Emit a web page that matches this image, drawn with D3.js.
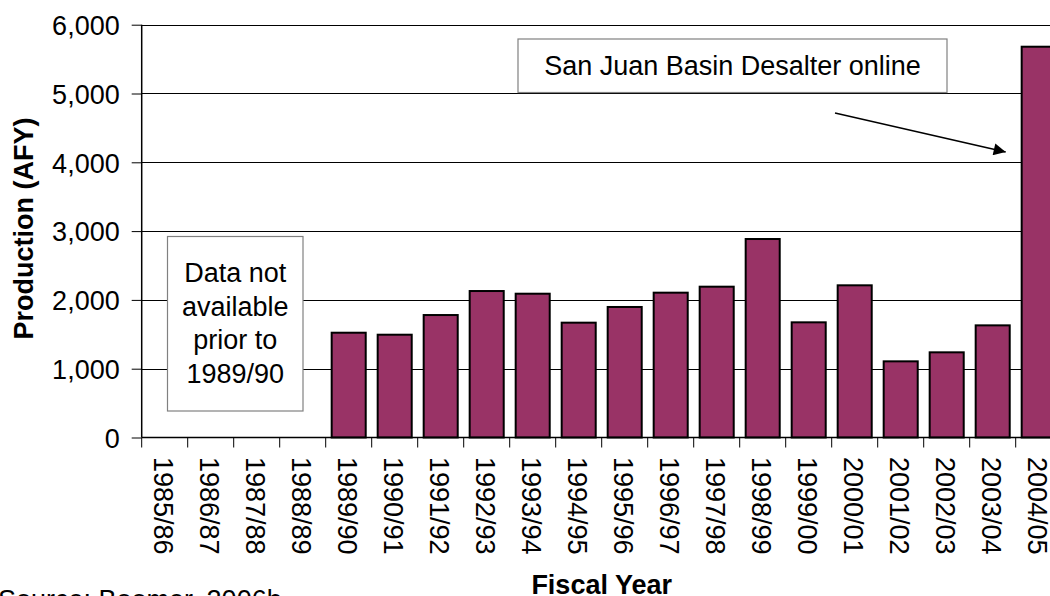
<!DOCTYPE html>
<html>
<head>
<meta charset="utf-8">
<script src="https://cdn.jsdelivr.net/npm/d3@7/dist/d3.min.js"></script>
<style>
  html, body { margin: 0; padding: 0; background: #fff; overflow: hidden; }
  svg { display: block; }
  text { font-family: "Liberation Sans", Arial, sans-serif; fill: #000; }
</style>
</head>
<body>
<svg id="chart" width="1050" height="596"></svg>
<script>
// ---- data ----
const categories = ["1985/86","1986/87","1987/88","1988/89","1989/90","1990/91","1991/92","1992/93","1993/94","1994/95",
                    "1995/96","1996/97","1997/98","1998/99","1999/00","2000/01","2001/02","2002/03","2003/04","2004/05"];
const production = [null, null, null, null, 1523, 1494, 1780, 2129, 2090, 1669,
                    1897, 2105, 2192, 2885, 1674, 2212, 1107, 1238, 1630, 5680];
const yTicks = [0, 1000, 2000, 3000, 4000, 5000, 6000];
const noDataNote = ["Data not", "available", "prior to", "1989/90"];
const desalterNote = "San Juan Basin Desalter online";
const yTitle = "Production (AFY)";
const xTitle = "Fiscal Year";
const sourceNote = "Source:  Boomer, 2006b";

// ---- layout ----
const svg = d3.select("#chart");
const plotL = 141.7, plotR = 1061.7, plotT = 24.7, plotB = 437.5;
const barColor = "#993366";
const fontSize = 27;

const x = d3.scaleBand().domain(categories).range([plotL, plotR]).paddingInner(0.26).paddingOuter(0.13);
const y = d3.scaleLinear().domain([0, 6000]).range([plotB, plotT]);

// gridlines
svg.append("g").selectAll("line").data(yTicks.filter(d => d > 0)).join("line")
  .attr("x1", plotL).attr("x2", plotR)
  .attr("y1", d => Math.round(y(d)) + 0.5).attr("y2", d => Math.round(y(d)) + 0.5)
  .attr("stroke", "#000").attr("stroke-width", 1);

// note box: data not available
const nb = { x0: 167.5, x1: 303, y0: 236.5, y1: 411 };
svg.append("rect").attr("x", nb.x0).attr("y", nb.y0).attr("width", nb.x1 - nb.x0).attr("height", nb.y1 - nb.y0)
  .attr("fill", "#fff").attr("stroke", "#808080").attr("stroke-width", 1.2);
svg.append("g").selectAll("text").data(noDataNote).join("text")
  .attr("x", (nb.x0 + nb.x1) / 2).attr("y", (d, i) => 282 + i * 33.6)
  .attr("text-anchor", "middle").attr("font-size", fontSize).text(d => d);

// bars
svg.append("g").selectAll("rect").data(categories.map((c, i) => ({ c, v: production[i] })).filter(d => d.v != null))
  .join("rect")
  .attr("x", d => x(d.c)).attr("width", x.bandwidth())
  .attr("y", d => y(d.v)).attr("height", d => y(0) - y(d.v))
  .attr("fill", barColor).attr("stroke", "#000").attr("stroke-width", 2);

// y axis
const yAxis = d3.axisLeft(y).tickValues(yTicks).tickFormat(d3.format(",")).tickSize(10).tickPadding(12);
const gy = svg.append("g").attr("transform", `translate(${plotL},0)`).call(yAxis);
gy.select(".domain").attr("stroke", "#000").attr("stroke-width", 1.5).attr("d", `M0,${plotT}V${plotB}`);
gy.selectAll(".tick line").attr("stroke", "#000");
gy.selectAll(".tick text").attr("font-size", fontSize).attr("font-family", '"Liberation Sans", Arial, sans-serif')
  .attr("fill", "#000").attr("dy", "0.36em");

// x axis line + ticks at band boundaries
svg.append("line").attr("x1", plotL).attr("x2", plotR).attr("y1", plotB).attr("y2", plotB)
  .attr("stroke", "#000").attr("stroke-width", 1.5);
const boundaries = categories.map(c => x(c) - x.step() * x.paddingOuter());
boundaries.push(plotR);
svg.append("g").selectAll("line").data(boundaries).join("line")
  .attr("x1", d => d).attr("x2", d => d).attr("y1", plotB).attr("y2", plotB + 10)
  .attr("stroke", "#000").attr("stroke-width", 1);

// x tick labels rotated
svg.append("g").selectAll("text").data(categories).join("text")
  .attr("transform", d => `translate(${x(d) + x.bandwidth() / 2},457) rotate(90)`)
  .attr("dy", "0.40em").attr("text-anchor", "start").attr("font-size", fontSize).text(d => d);

// axis titles
svg.append("text").attr("transform", `translate(33,228.5) rotate(-90)`).attr("text-anchor", "middle")
  .attr("font-size", fontSize).attr("font-weight", "bold").text(yTitle);
svg.append("text").attr("x", (plotL + plotR) / 2).attr("y", 594).attr("text-anchor", "middle")
  .attr("font-size", fontSize).attr("font-weight", "bold").text(xTitle);

// desalter note + arrow
const db = { x0: 518, x1: 947, y0: 39, y1: 92.5 };
svg.append("rect").attr("x", db.x0).attr("y", db.y0).attr("width", db.x1 - db.x0).attr("height", db.y1 - db.y0)
  .attr("fill", "#fff").attr("stroke", "#808080").attr("stroke-width", 1.2);
svg.append("text").attr("x", (db.x0 + db.x1) / 2).attr("y", 74.5).attr("text-anchor", "middle")
  .attr("font-size", fontSize).text(desalterNote);

svg.append("defs").append("marker").attr("id", "arrow").attr("viewBox", "0 0 10 10")
  .attr("refX", 10).attr("refY", 5).attr("markerWidth", 18).attr("markerHeight", 12).attr("markerUnits", "userSpaceOnUse")
  .attr("orient", "auto")
  .append("path").attr("d", "M0,0L10,5L0,10Z").attr("fill", "#000");
// arrow points at the 2004/05 bar
const arrowTip = [x("2004/05") - 16, y(4150)];
svg.append("line").attr("x1", 835).attr("y1", 113).attr("x2", arrowTip[0]).attr("y2", arrowTip[1])
  .attr("stroke", "#000").attr("stroke-width", 1.5).attr("marker-end", "url(#arrow)");

// source
svg.append("text").attr("x", -2).attr("y", 609).attr("font-size", fontSize).text(sourceNote);
</script>
</body>
</html>
